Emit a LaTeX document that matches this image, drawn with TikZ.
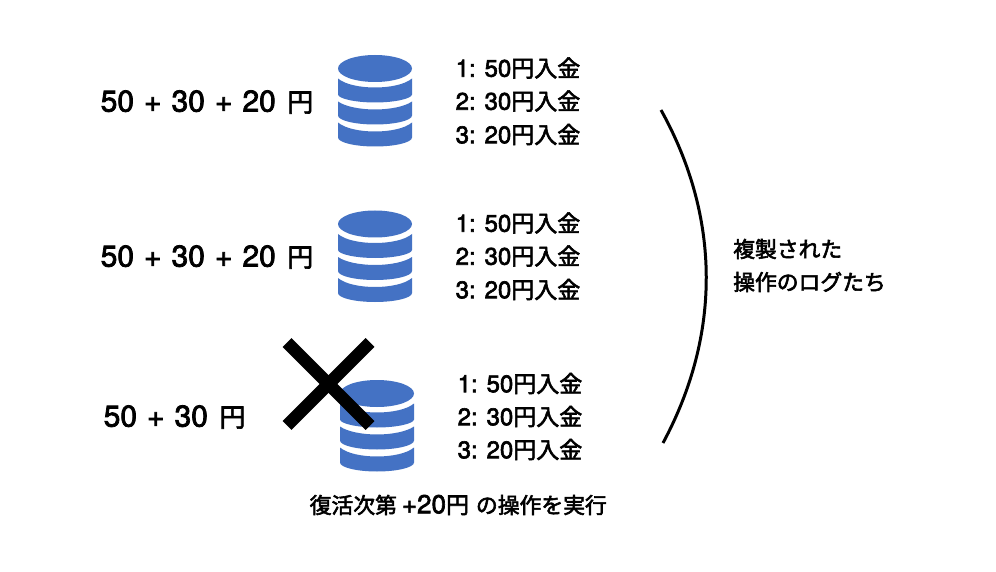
\documentclass[tikz,border=0pt]{standalone}
\usepackage{fontspec}
\setmainfont{TeX Gyre Heros}[RawFeature={embolden=2.5}]
\newfontfamily\cjk{Noto Sans CJK JP}[RawFeature={embolden=2.6}]
\newcommand{\JB}[1]{{\fontsize{26}{26}\cjk #1}}
\newcommand{\JL}[1]{{\fontsize{23}{25}\cjk #1}}
\newcommand{\JN}[1]{{\fontsize{21.8}{25}\cjk #1}}
\newcommand{\sk}{\hspace{10pt}}
\definecolor{dbblue}{HTML}{4472C4}
\tikzset{
  x=1pt,y=-1pt,
  biglabel/.style={inner sep=0pt,anchor=west,font=\fontsize{30}{34}\selectfont},
  loglabel/.style={inner sep=0pt,anchor=west,font=\fontsize{24}{28}\selectfont},
  notelabel/.style={inner sep=0pt,anchor=west,font=\fontsize{26}{28}\selectfont},
  dbicon/.pic={
    \fill[dbblue] (-37,14) arc[x radius=37,y radius=13.5,start angle=180,end angle=-180];
    \fill[dbblue] (-37,24) .. controls (-30,30) and (-15,33) .. (0,33) .. controls (15,33) and (30,30) .. (37,24)
      -- (37,40) .. controls (37,44) and (20,48) .. (0,48) .. controls (-20,48) and (-37,44) .. (-37,40) -- cycle;
    \fill[dbblue] (-37,47) .. controls (-30,52) and (-15,55) .. (0,55) .. controls (15,55) and (30,52) .. (37,47)
      -- (37,61) .. controls (37,66) and (20,70) .. (0,70) .. controls (-20,70) and (-37,66) .. (-37,61) -- cycle;
    \fill[dbblue] (-37,68) .. controls (-30,74) and (-15,77) .. (0,77) .. controls (15,77) and (30,74) .. (37,68)
      -- (37,83) .. controls (37,88) and (20,92) .. (0,92) .. controls (-20,92) and (-37,88) .. (-37,83) -- cycle;
  }
}
\begin{document}
\begin{tikzpicture}
\useasboundingbox (0,0) rectangle (996,572);
\fill[white] (0,0) rectangle (996,572);
\pic at (375,54.5) {dbicon};
\pic at (375,210) {dbicon};
\pic at (377,379.5) {dbicon};
\node[biglabel] (a) at (100.5,102) {50\sk+\sk30\sk+\sk20\hspace{11.5pt}\JB{円}};
\node[biglabel] (b) at (100.5,257) {50\sk+\sk30\sk+\sk20\hspace{11.5pt}\JB{円}};
\node[biglabel] (c) at (103.5,417) {50\sk+\sk30\hspace{11.5pt}\JB{円}};
\node[loglabel] (a1) at (455.5,68) {1: 50\JL{円入金}};
\node[loglabel] (a2) at (455.5,101) {2: 30\JL{円入金}};
\node[loglabel] (a3) at (455.5,134.5) {3: 20\JL{円入金}};
\node[loglabel] (b1) at (455.5,223) {1: 50\JL{円入金}};
\node[loglabel] (b2) at (455.5,256) {2: 30\JL{円入金}};
\node[loglabel] (b3) at (455.5,289.5) {3: 20\JL{円入金}};
\node[loglabel] (c1) at (457.5,383.5) {1: 50\JL{円入金}};
\node[loglabel] (c2) at (457.5,416.5) {2: 30\JL{円入金}};
\node[loglabel] (c3) at (457.5,449.5) {3: 20\JL{円入金}};
\node[notelabel] (n1) at (733,249) {\JN{複製された}};
\node[notelabel] (n2) at (733,282) {\JN{操作のログたち}};
\node[notelabel] (n3) at (309.5,505) {\JN{復活次第}\hspace{5pt}+20\JL{円}\hspace{7pt}\JN{の操作を実行}};
\draw[line width=3pt] (661,110) .. controls (721,218) and (721,335) .. (663,443);
\draw[line width=12.5pt] (287,342.5) -- (370,425.5);
\draw[line width=12.5pt] (370,342.5) -- (287,425.5);
\end{tikzpicture}
\end{document}
